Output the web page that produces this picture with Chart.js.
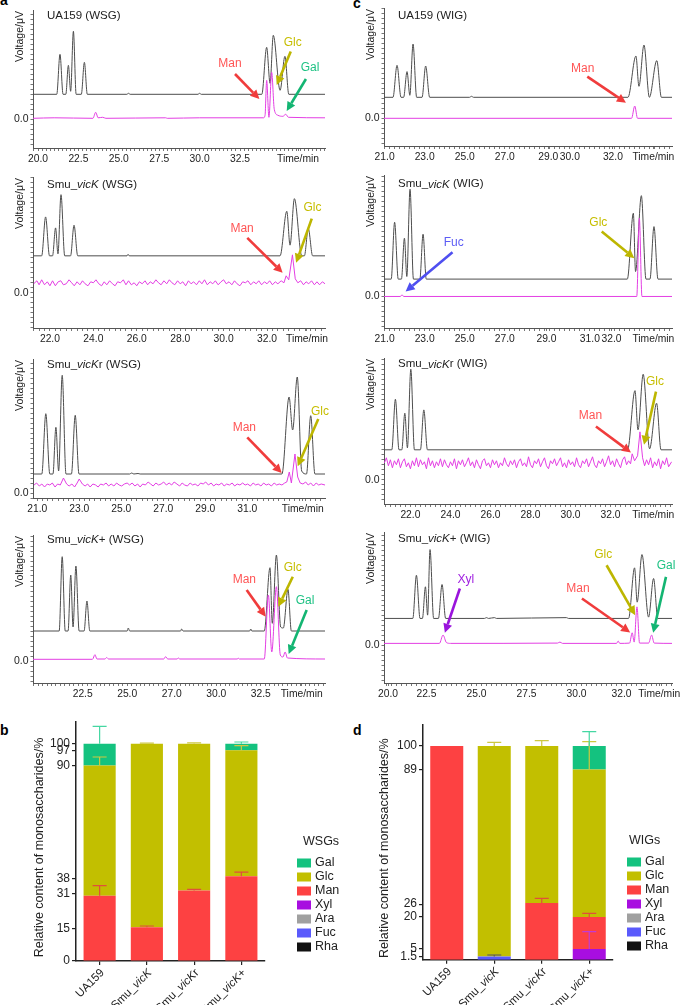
<!DOCTYPE html>
<html>
<head>
<meta charset="utf-8">
<script src="https://cdn.jsdelivr.net/npm/chart.js@4.4.1/dist/chart.umd.min.js"></script>
<style>
  body { margin: 0; background: #fff; width: 685px; height: 1005px; position: relative; overflow: hidden; font-family: "Liberation Sans", Arial, sans-serif; }
  canvas { position: absolute; }
  .letter { position: absolute; font: bold 14px "Liberation Sans", Arial, sans-serif; line-height: 14px; color: #000; }
</style>
</head>
<body>
<div class="letter" style="left:0;top:-7px">a</div>
<div class="letter" style="left:353px;top:-4px">c</div>
<div class="letter" style="left:0;top:723px">b</div>
<div class="letter" style="left:353px;top:723px">d</div>
<script>
// ---- chromatogram traces: [time/min, signal] ----
const a1Black = [[19.69,25],[21.16,25],[21.36,65],[21.55,25],[21.72,25],[21.88,54],[22.02,28],[22.19,88],[22.36,25],[22.68,25],[22.87,57],[23.05,25],[25.5,25],[25.6,26],[25.7,25],[29.9,25],[30,26],[30.1,25],[33.85,25],[34.15,72],[34.36,36],[34.56,84],[34.98,29],[35.28,63],[35.52,25],[37.76,25]];
const a1Magenta = [[19.69,1],[21,1.5],[23.4,1],[23.57,7],[23.72,1.5],[24,2],[24.2,1],[27.9,1.5],[28,1],[30,1.5],[33.95,1.5],[34.05,4],[34.15,39],[34.29,2],[34.46,47],[34.62,10],[34.85,4],[35.15,3],[35.33,5],[35.5,2],[37.76,1.5]];
const c1Black = [[20.97,21],[21.42,21],[21.62,53],[21.82,21],[21.95,21],[22.12,46.7],[22.26,23],[22.42,74.3],[22.6,21],[22.87,21],[23.05,52.3],[23.25,21],[25.24,21],[25.34,22],[25.44,21],[33.15,21],[33.55,62.3],[33.7,32],[33.95,73.3],[34.22,21],[34.59,57.7],[34.82,21],[35.35,21]];
const c1Magenta = [[20.97,0],[33.33,0],[33.49,12.3],[33.63,0],[35.35,0]];
const a2Black = [[21.22,37],[21.62,37],[21.8,76],[21.98,37],[22.12,37],[22.26,65],[22.37,39],[22.51,98.3],[22.68,37],[22.95,37],[23.11,67.7],[23.28,37],[25.55,37],[25.6,38.5],[25.65,37],[32.6,37],[32.91,81.7],[33.06,47.7],[33.26,94.3],[33.6,37],[33.72,37],[33.9,64.3],[34.1,37],[34.67,37]];
const a2Magenta = [[21.25,9],[21.4,12],[21.5,8],[21.62,13],[21.75,8],[21.88,11],[22,7],[22.12,12],[22.25,7],[22.38,11],[22.5,12],[22.62,8],[22.75,9],[22.88,13],[23,10],[23.12,7],[23.25,11],[23.38,8],[23.5,12],[23.62,9],[23.75,7],[23.88,11],[24,10],[24.12,13],[24.25,9],[24.38,7],[24.5,11],[24.62,8],[24.75,12],[24.88,9],[25,7],[25.12,11],[25.25,10],[25.38,13],[25.5,8],[25.62,12],[25.75,8],[25.88,10],[26,7],[26.12,11],[26.25,9],[26.38,12],[26.5,8],[26.62,11],[26.75,9],[26.88,13],[27,10],[27.12,8],[27.25,12],[27.38,9],[27.5,13],[27.62,10],[27.75,8],[27.88,12],[28,9],[28.12,11],[28.25,7],[28.38,12],[28.5,9],[28.62,11],[28.75,8],[28.88,12],[29,9],[29.12,13],[29.25,8],[29.38,11],[29.5,9],[29.62,12],[29.75,8],[29.88,11],[30,13],[30.12,9],[30.25,11],[30.38,8],[30.5,12],[30.62,9],[30.75,7],[30.88,11],[31,10],[31.12,12],[31.25,8],[31.38,11],[31.5,9],[31.62,12],[31.75,8],[31.88,11],[32,9],[32.12,12],[32.25,8],[32.38,11],[32.5,9],[32.65,12],[32.78,10],[32.88,17],[33,13],[33.17,38],[33.3,14],[33.42,10],[33.55,12],[33.68,8],[33.8,11],[33.92,9],[34.05,12],[34.18,8],[34.3,11],[34.42,8],[34.55,11],[34.67,9]];
const c2Black = [[20.97,17.4],[21.33,17.4],[21.5,74.4],[21.68,17.4],[21.84,17.4],[21.99,58.4],[22.11,20],[22.27,107.4],[22.44,17.4],[22.76,17.4],[22.92,62.4],[23.08,17.4],[33.12,17.4],[33.42,83.4],[33.53,25],[33.82,101],[34.05,17.4],[34.25,17.4],[34.45,70],[34.65,17.4],[35.35,17.4]];
const c2Magenta = [[20.97,0],[21.79,0],[21.87,1.7],[21.95,0],[33.59,0],[33.72,78.3],[33.85,0],[35.35,0]];
const a3Black = [[20.8,19],[21.22,19],[21.41,79.3],[21.6,19],[21.75,19],[21.89,65.7],[22.02,22],[22.19,117.7],[22.37,19],[22.63,19],[22.81,77.7],[22.99,19],[25.4,19],[25.5,20],[25.6,19],[25.8,19.5],[25.9,19],[32.65,19],[32.99,96],[33.16,63],[33.38,116],[33.59,22],[33.82,19],[34.02,77.3],[34.22,19],[34.7,19]];
const a3Magenta = [[20.85,8],[20.97,10],[21.1,7],[21.22,9],[21.35,6],[21.48,9],[21.6,8],[21.72,10],[21.85,6],[21.97,9],[22.1,8],[22.25,15],[22.4,9],[22.52,7],[22.65,9],[22.78,6],[22.9,10],[23,14],[23.15,9],[23.28,7],[23.4,9],[23.52,6],[23.65,9],[23.78,8],[23.9,6],[24.02,9],[24.15,8],[24.28,10],[24.4,7],[24.52,9],[24.65,7],[24.78,10],[24.9,8],[25.02,7],[25.15,9],[25.28,10],[25.4,8],[25.52,10],[25.65,7],[25.78,9],[25.9,6],[26.02,9],[26.15,8],[26.28,11],[26.4,9],[26.52,7],[26.65,10],[26.78,8],[26.9,9],[27.02,11],[27.15,8],[27.28,10],[27.4,8],[27.52,11],[27.65,9],[27.78,7],[27.9,10],[28.02,8],[28.15,7],[28.28,10],[28.4,8],[28.52,9],[28.65,7],[28.78,10],[28.9,9],[29.02,11],[29.15,8],[29.28,10],[29.4,7],[29.52,9],[29.65,8],[29.78,10],[29.9,7],[30.02,9],[30.15,8],[30.28,10],[30.4,7],[30.52,9],[30.65,8],[30.78,10],[30.9,8],[31.02,9],[31.15,7],[31.28,10],[31.4,8],[31.52,9],[31.65,7],[31.78,10],[31.9,8],[32.02,9],[32.15,7],[32.28,10],[32.4,8],[32.52,9],[32.65,8],[32.78,10],[32.88,11],[33,21],[33.1,10],[33.27,39],[33.4,16],[33.52,10],[33.65,9],[33.78,11],[33.9,8],[34.02,10],[34.15,7],[34.28,10],[34.4,8],[34.52,9],[34.7,8]];
const c3Black = [[20.68,30],[21.07,30],[21.25,80.7],[21.43,30],[21.57,30],[21.72,66.7],[21.85,32],[22.02,110.7],[22.2,30],[22.5,30],[22.67,70],[22.85,30],[32.85,30],[33.22,89.3],[33.37,50],[33.63,105.7],[33.95,31],[34.3,76.7],[34.52,30],[35.07,30]];
const c3Magenta = [[20.7,17],[20.8,22],[20.9,14],[21,20],[21.1,12],[21.2,19],[21.3,15],[21.4,21],[21.5,12],[21.6,18],[21.7,21],[21.8,13],[21.9,17],[22,11],[22.1,19],[22.2,14],[22.3,22],[22.4,13],[22.5,20],[22.6,15],[22.7,18],[22.8,11],[22.9,22],[23,14],[23.1,19],[23.2,12],[23.3,18],[23.4,14],[23.5,21],[23.6,13],[23.7,20],[23.8,15],[23.9,12],[24,18],[24.1,14],[24.2,21],[24.3,11],[24.4,19],[24.5,15],[24.6,20],[24.7,13],[24.8,17],[24.9,22],[25,14],[25.1,18],[25.2,12],[25.3,20],[25.4,15],[25.5,11],[25.6,19],[25.7,21],[25.8,14],[25.9,17],[26,12],[26.1,20],[26.2,15],[26.3,19],[26.4,12],[26.5,17],[26.6,14],[26.7,22],[26.8,16],[26.9,13],[27,19],[27.1,15],[27.2,20],[27.3,12],[27.4,18],[27.5,21],[27.6,14],[27.7,17],[27.8,13],[27.9,23],[28,15],[28.1,12],[28.2,19],[28.3,16],[28.4,21],[28.5,13],[28.6,18],[28.7,22],[28.8,14],[28.9,11],[29,19],[29.1,16],[29.2,21],[29.3,14],[29.4,18],[29.5,22],[29.6,13],[29.7,17],[29.8,12],[29.9,20],[30,15],[30.1,18],[30.2,13],[30.3,22],[30.4,15],[30.5,12],[30.6,19],[30.7,16],[30.8,21],[30.9,13],[31,18],[31.1,23],[31.2,15],[31.3,12],[31.4,19],[31.5,16],[31.6,21],[31.7,13],[31.8,18],[31.9,24],[32,15],[32.1,19],[32.2,13],[32.3,21],[32.4,16],[32.5,12],[32.6,20],[32.7,23],[32.8,15],[32.9,19],[33,16],[33.08,26],[33.2,19],[33.35,24],[33.47,48],[33.6,22],[33.7,14],[33.8,20],[33.9,15],[34,22],[34.1,12],[34.2,18],[34.3,14],[34.4,21],[34.5,11],[34.6,19],[34.7,15],[34.8,22],[34.9,13],[35.05,18]];
const a4Black = [[19.71,30],[21.18,30],[21.35,104.3],[21.52,30],[21.68,30],[21.83,86],[21.96,34],[22.12,95],[22.3,30],[22.58,30],[22.74,60],[22.9,30],[25,30],[25.06,33],[25.14,30],[28,30],[28.06,32],[28.14,30],[31.88,30],[31.94,32],[32,30],[32.7,30],[33.02,93.3],[33.15,37.7],[33.38,106],[33.62,34],[33.77,33],[34.03,71.7],[34.22,30],[36.11,30]];
const a4Magenta = [[19.71,1.7],[23.05,1.7],[23.19,6.3],[23.3,2],[23.75,2],[23.85,3.5],[23.95,2],[27.05,2],[27.16,4.3],[27.28,2],[27.8,2],[27.87,3],[27.95,2],[31.2,2],[31.24,3],[31.3,2],[32.7,2],[32.93,66],[33.12,9],[33.38,74.3],[33.6,6],[33.75,4],[33.87,9],[34,3],[36.11,2]];
const c4Black = [[20.38,26.7],[21.82,26.7],[22,70],[22.18,26.7],[22.3,26.7],[22.45,58.4],[22.56,30],[22.68,95.7],[22.86,26.7],[23.1,26.7],[23.28,60.7],[23.46,26.7],[25.4,26.7],[25.5,27.5],[25.6,26.7],[25.9,27.5],[26,26.7],[29.5,27.5],[29.6,26.7],[32.6,26.7],[32.9,77.4],[33.03,43],[33.27,90.7],[33.6,28],[33.85,66.7],[34.06,26.7],[34.77,26.7]];
const c4Magenta = [[20.38,1.7],[23.15,1.7],[23.33,10],[23.5,2.5],[23.7,1.7],[29.05,2],[29.17,3],[29.3,1.7],[32,1.7],[32.08,4],[32.16,1.7],[32.65,2],[32.78,12.3],[32.88,3],[33.02,38.3],[33.15,2],[33.6,2],[33.75,10],[33.88,2],[34.77,1.7]];

// ---- x tick labels [position, label] ----
const a1Ticks = [[20,'20.0'],[22.5,'22.5'],[25,'25.0'],[27.5,'27.5'],[30,'30.0'],[32.5,'32.5'],[36.09,'Time/min']];
const c1Ticks = [[21,'21.0'],[23,'23.0'],[25,'25.0'],[27,'27.0'],[29.17,'29.0'],[30.25,'30.0'],[32.4,'32.0'],[34.42,'Time/min']];
const a2Ticks = [[22,'22.0'],[24,'24.0'],[26,'26.0'],[28,'28.0'],[30,'30.0'],[32,'32.0'],[33.84,'Time/min']];
const c2Ticks = [[21,'21.0'],[23,'23.0'],[25,'25.0'],[27,'27.0'],[29.08,'29.0'],[31.25,'31.0'],[32.33,'32.0'],[34.42,'Time/min']];
const a3Ticks = [[21,'21.0'],[23,'23.0'],[25,'25.0'],[27,'27.0'],[29,'29.0'],[31,'31.0'],[33.64,'Time/min']];
const c3Ticks = [[22,'22.0'],[24,'24.0'],[26,'26.0'],[28,'28.0'],[30,'30.0'],[32,'32.0'],[34.13,'Time/min']];
const a4Ticks = [[22.5,'22.5'],[25,'25.0'],[27.5,'27.0'],[30,'30.0'],[32.5,'32.5'],[34.8,'Time/min']];
const c4Ticks = [[20.58,'20.0'],[22.5,'22.5'],[25,'25.0'],[27.5,'27.5'],[30,'30.0'],[32.25,'32.0'],[34.13,'Time/min']];

// ---- peak annotations [sugar, fromX, fromY, toX, toY, labelX, labelY] ----
const a1Arrows = [['Man',32.19,45.3,33.7,20.3,31.88,55.3],['Glc',35.64,67.7,34.77,34.3,35.76,77],['Gal',36.58,40.3,35.39,8.3,36.83,51.7]];
const c1Arrows = [['Man',31.12,41.6,33.05,15.6,30.89,50]];
const a2Arrows = [['Man',31.09,55,32.72,20,30.85,64.3],['Glc',34.06,74.3,33.34,30,34.09,85]];
const c2Arrows = [['Fuc',24.39,44.3,22.05,5,24.45,54.3],['Glc',31.84,65,33.47,38.3,31.67,74.3]];
const a3Arrows = [['Man',31.0,55.7,32.64,20,30.86,65.7],['Glc',34.38,74,33.4,26.7,34.46,81.7]];
const c3Arrows = [['Man',31.27,53.3,33.02,27.3,31.0,64],['Glc',34.27,88.3,33.67,35,34.22,98.3]];
const a4Arrows = [['Man',31.71,71,32.78,44.3,31.58,81],['Glc',34.3,84.3,33.49,54.3,34.3,93.3],['Gal',35.08,51,34.07,7,34.99,60]];
const c4Arrows = [['Xyl',24.17,56.7,23.42,12.3,24.47,66],['Man',30.27,46.7,32.68,12.7,30.07,56.7],['Glc',31.5,80,32.93,30,31.33,90.7],['Gal',34.47,68.3,33.83,12.3,34.47,79.3]];

// ---- bar charts (b: WSGs, d: WIGs) ----
const barCats = ['UA159', 'Smu_<i>vicK</i>', 'Smu_<i>vicK</i>r', 'Smu_<i>vicK</i>+'];
const sugars = ['Rha', 'Fuc', 'Ara', 'Xyl', 'Man', 'Glc', 'Gal'];
const wsgRha = [0, 0, 0, 0];
const wsgFuc = [0, 0, 0, 0];
const wsgAra = [0, 0, 0, 0];
const wsgXyl = [0, 0, 0, 0];
const wsgMan = [30, 15.5, 32.5, 39];
const wsgGlc = [60, 84.5, 67.5, 58];
const wsgGal = [10, 0, 0, 3];
const wsgManErr = [4.7, 0.6, 0.5, 1.9];
const wsgGlcErr = [3.9, 0.3, 0.4, 2.1];
const wsgGalErr = [8, 0, 0, 0.8];
const wsgTicks = [0, 15, 31, 38, 90, 97, 100];
const wigRha = [0, 0, 0, 0];
const wigFuc = [0, 1.5, 0, 0];
const wigAra = [0, 0, 0, 0];
const wigXyl = [0, 0, 0, 5];
const wigMan = [100, 0, 26.5, 15];
const wigGlc = [0, 98.5, 73.5, 69];
const wigGal = [0, 0, 0, 11];
const wigFucErr = [0, 0.7, 0, 0];
const wigXylErr = [0, 0, 0, 8.1];
const wigManErr = [0, 0, 2.2, 1.7];
const wigGlcErr = [0, 1.7, 2.5, 13];
const wigGalErr = [0, 0, 0, 6.7];
const wigTicks = [1.5, 5, 20, 26, 89, 100];

const FONT = '"Liberation Sans", Arial, Helvetica, sans-serif';
const sugarColor = { Gal: '#14c27f', Glc: '#c2bf00', Man: '#fd4142', Xyl: '#a80ee0', Ara: '#a0a0a0', Fuc: '#5a5afc', Rha: '#111111' };
const errColor = { Gal: '#45d7a2', Glc: '#cdc840', Man: '#e0503a', Xyl: '#c23ad6', Ara: '#888', Fuc: '#556', Rha: '#000' };
const arrowColor = { Man: '#f03c3c', Glc: '#bdb600', Gal: '#13b572', Fuc: '#4f4ff0', Xyl: '#9a14dc' };
const labelColor = { Man: '#ff5555', Glc: '#c6be00', Gal: '#1fc284', Fuc: '#5c5cf5', Xyl: '#a020e0' };

function makeCanvas(left, top, w, h) {
  const c = document.createElement('canvas');
  c.width = w; c.height = h;
  c.style.left = left + 'px'; c.style.top = top + 'px';
  c.style.width = w + 'px'; c.style.height = h + 'px';
  document.body.appendChild(c);
  return c;
}

function segments(s) {
  const out = []; const re = /<i>(.*?)<\/i>/g; let last = 0, m;
  while ((m = re.exec(s))) {
    if (m.index > last) out.push([s.slice(last, m.index), false]);
    out.push([m[1], true]); last = re.lastIndex;
  }
  if (last < s.length) out.push([s.slice(last), false]);
  return out;
}

function drawRich(ctx, s, x, y, size, align, color) {
  const segs = segments(s);
  const f = it => (it ? 'italic ' : '') + size + 'px ' + FONT;
  let w = 0;
  segs.forEach(([t, it]) => { ctx.font = f(it); w += ctx.measureText(t).width; });
  let cx = align === 'right' ? x - w : align === 'center' ? x - w / 2 : x;
  ctx.fillStyle = color; ctx.textAlign = 'left';
  segs.forEach(([t, it]) => { ctx.font = f(it); ctx.fillText(t, cx, y); cx += ctx.measureText(t).width; });
}

function arrow(ctx, x1, y1, x2, y2, color) {
  const ang = Math.atan2(y2 - y1, x2 - x1), head = 9, half = 4.5;
  const bx = x2 - head * Math.cos(ang), by = y2 - head * Math.sin(ang);
  ctx.save();
  ctx.strokeStyle = color; ctx.fillStyle = color; ctx.lineWidth = 2.6;
  ctx.beginPath(); ctx.moveTo(x1, y1); ctx.lineTo(bx, by); ctx.stroke();
  ctx.beginPath();
  ctx.moveTo(x2, y2);
  ctx.lineTo(bx + half * Math.sin(ang), by - half * Math.cos(ang));
  ctx.lineTo(bx - half * Math.sin(ang), by + half * Math.cos(ang));
  ctx.closePath(); ctx.fill();
  ctx.restore();
}

const chromDecor = {
  id: 'chromDecor',
  afterDraw(chart, args, o) {
    const ctx = chart.ctx, a = chart.chartArea, xs = chart.scales.x, ys = chart.scales.y;
    ctx.save();
    ctx.textBaseline = 'middle';
    drawRich(ctx, o.title, a.left + 14, o.titleY, 11.5, 'left', '#222');
    ctx.translate(a.left - 13, a.top + 1);
    ctx.rotate(-Math.PI / 2);
    ctx.font = '10.5px ' + FONT; ctx.fillStyle = '#222'; ctx.textAlign = 'right';
    ctx.fillText('Voltage/\u03bcV', 0, 0);
    ctx.restore();
    o.arrows.forEach(([name, fx, fy, tx, ty, lx, ly]) => {
      arrow(ctx, xs.getPixelForValue(fx), ys.getPixelForValue(fy), xs.getPixelForValue(tx), ys.getPixelForValue(ty), arrowColor[name]);
      ctx.save();
      ctx.font = '12px ' + FONT; ctx.fillStyle = labelColor[name];
      ctx.textAlign = 'center'; ctx.textBaseline = 'middle';
      ctx.fillText(name, xs.getPixelForValue(lx), ys.getPixelForValue(ly));
      ctx.restore();
    });
  }
};

const columns = [
  { left: 0, width: 335, yWidth: 33, padRight: 10 },
  { left: 340, width: 345, yWidth: 44, padRight: 13 }
];

const panels = [
  { col: 0, top: 10, bottom: 148, zero: 119.3, xmin: 19.69, xmax: 37.76, titleY: 16, title: 'UA159 (WSG)', black: a1Black, magenta: a1Magenta, ticks: a1Ticks, arrows: a1Arrows },
  { col: 1, top: 8, bottom: 146, zero: 118.3, xmin: 20.97, xmax: 35.35, titleY: 16, title: 'UA159 (WIG)', black: c1Black, magenta: c1Magenta, ticks: c1Ticks, arrows: c1Arrows },
  { col: 0, top: 176.7, bottom: 328, zero: 292.7, xmin: 21.22, xmax: 34.67, titleY: 184.3, title: 'Smu_<i>vicK</i> (WSG)', black: a2Black, magenta: a2Magenta, ticks: a2Ticks, arrows: a2Arrows, noisy: true },
  { col: 1, top: 175, bottom: 328.3, zero: 296.7, xmin: 20.97, xmax: 35.35, titleY: 184.3, title: 'Smu_<i>vicK</i> (WIG)', black: c2Black, magenta: c2Magenta, ticks: c2Ticks, arrows: c2Arrows },
  { col: 0, top: 359.3, bottom: 498.3, zero: 493.3, xmin: 20.8, xmax: 34.7, titleY: 365, title: 'Smu_<i>vicK</i>r (WSG)', black: a3Black, magenta: a3Magenta, ticks: a3Ticks, arrows: a3Arrows, noisy: true },
  { col: 1, top: 358, bottom: 504.3, zero: 480, xmin: 20.68, xmax: 35.07, titleY: 364.3, title: 'Smu_<i>vicK</i>r (WIG)', black: c3Black, magenta: c3Magenta, ticks: c3Ticks, arrows: c3Arrows, noisy: true },
  { col: 0, top: 535, bottom: 683, zero: 661, xmin: 19.71, xmax: 36.11, titleY: 540, title: 'Smu_<i>vicK</i>+ (WSG)', black: a4Black, magenta: a4Magenta, ticks: a4Ticks, arrows: a4Arrows },
  { col: 1, top: 531.7, bottom: 683, zero: 645, xmin: 20.38, xmax: 34.77, titleY: 538.3, title: 'Smu_<i>vicK</i>+ (WIG)', black: c4Black, magenta: c4Magenta, ticks: c4Ticks, arrows: c4Arrows }
];

function zeroPad(s) { s.paddingLeft = 0; s.paddingRight = 0; s.paddingTop = 0; s.paddingBottom = 0; }

panels.forEach(p => {
  const col = columns[p.col];
  const padTop = 12, xH = 24;
  const cTop = p.top - padTop;
  const h = Math.round(p.bottom - p.top + padTop + xH);
  const cv = makeCanvas(col.left, cTop, col.width, h);
  const labelAt = new Map(p.ticks.map(([v, l]) => [v.toFixed(3), l]));
  const toXY = arr => arr.map(([x, y]) => ({ x, y }));
  new Chart(cv, {
    type: 'line',
    data: {
      datasets: [
        { data: toXY(p.magenta), borderColor: '#e33ee3', borderWidth: 1, pointRadius: 0,
          cubicInterpolationMode: p.noisy ? 'default' : 'monotone', tension: 0 },
        { data: toXY(p.black), borderColor: '#4d4d4d', borderWidth: 1, pointRadius: 0, cubicInterpolationMode: 'monotone' }
      ]
    },
    options: {
      responsive: false, animation: false, events: [],
      layout: { padding: { top: padTop, right: col.padRight, left: 0, bottom: 0 } },
      plugins: {
        legend: { display: false }, tooltip: { enabled: false },
        chromDecor: { title: p.title, titleY: p.titleY - cTop, arrows: p.arrows }
      },
      scales: {
        x: {
          type: 'linear', min: p.xmin, max: p.xmax,
          afterFit: s => { s.height = xH; zeroPad(s); },
          afterBuildTicks: s => {
            const vals = new Map();
            for (let v = Math.ceil(p.xmin * 4) / 4; v <= p.xmax; v += 0.25) vals.set(v.toFixed(3), v);
            p.ticks.forEach(([v]) => vals.set(v.toFixed(3), v));
            s.ticks = [...vals.values()].sort((a, b) => a - b).map(v => ({ value: v }));
          },
          ticks: { autoSkip: false, maxRotation: 0, padding: 2, color: '#222', font: { family: FONT, size: 10.3 },
                   callback: v => labelAt.get(Number(v).toFixed(3)) || '' },
          grid: { drawOnChartArea: false, tickLength: 3, color: '#777' },
          border: { color: '#555' }
        },
        y: {
          min: p.zero - p.bottom, max: p.zero - p.top,
          afterFit: s => { s.width = col.yWidth; zeroPad(s); },
          afterBuildTicks: s => {
            const t = [];
            for (let v = Math.ceil((p.zero - p.bottom) / 5) * 5; v <= p.zero - p.top; v += 5) t.push({ value: v });
            s.ticks = t;
          },
          ticks: { autoSkip: false, padding: 2, color: '#222', font: { family: FONT, size: 10.5 },
                   callback: v => (Math.abs(v) < 1e-9 ? '0.0' : '') },
          grid: { drawOnChartArea: false, tickLength: 2.5, color: '#777' },
          border: { color: '#555' }
        }
      }
    },
    plugins: [chromDecor]
  });
});

// ---- stacked bar charts ----
const errorBars = {
  id: 'errorBars',
  afterDatasetsDraw(chart) {
    const ctx = chart.ctx, ys = chart.scales.y;
    chart.data.datasets.forEach((ds, i) => {
      if (!ds.err) return;
      chart.getDatasetMeta(i).data.forEach((bar, j) => {
        const e = ds.err[j];
        if (!e || !ds.data[j]) return;
        const yTop = ys.getPixelForValue(ys.getValueForPixel(bar.y) + e);
        ctx.save();
        ctx.strokeStyle = ds.errColor; ctx.lineWidth = 1.2;
        ctx.beginPath();
        ctx.moveTo(bar.x, bar.y); ctx.lineTo(bar.x, yTop);
        ctx.moveTo(bar.x - 7, yTop); ctx.lineTo(bar.x + 7, yTop);
        ctx.stroke();
        ctx.restore();
      });
    });
  }
};

const barDecor = {
  id: 'barDecor',
  afterDraw(chart, args, o) {
    const ctx = chart.ctx, a = chart.chartArea, xs = chart.scales.x;
    ctx.save();
    ctx.translate(a.left - o.titleOffset, (a.top + a.bottom) / 2 + 6);
    ctx.rotate(-Math.PI / 2);
    ctx.font = '12.5px ' + FONT; ctx.fillStyle = '#222';
    ctx.textAlign = 'center'; ctx.textBaseline = 'middle';
    ctx.fillText('Relative content of monosaccharides/%', 0, 0);
    ctx.restore();
    chart.data.labels.forEach((lab, j) => {
      ctx.save();
      ctx.translate(xs.getPixelForValue(j) + 3, a.bottom + 10);
      ctx.rotate(-Math.PI / 4);
      ctx.textBaseline = 'middle';
      drawRich(ctx, lab, 0, 0, 11.5, 'right', '#222');
      ctx.restore();
    });
    ctx.save();
    ctx.font = '12.5px ' + FONT; ctx.fillStyle = '#222';
    ctx.textAlign = 'left'; ctx.textBaseline = 'middle';
    ctx.fillText(o.legendTitle, o.legendTitleX, o.legendTop - 21);
    const ds = chart.data.datasets.slice().reverse();
    ds.forEach((d, k) => {
      const y = o.legendTop + k * 14;
      ctx.fillStyle = d.backgroundColor;
      ctx.fillRect(o.legendX, y - 4.5, 14, 9);
      ctx.fillStyle = '#222';
      ctx.fillText(d.label, o.legendX + 18, y);
    });
    ctx.restore();
  }
};

function stackedBars(box, series, errs, ticks, legendTitle) {
  const cv = makeCanvas(box.left, box.top, box.width, box.height);
  new Chart(cv, {
    type: 'bar',
    data: {
      labels: barCats,
      datasets: sugars.map(s => ({
        label: s, data: series[s], err: errs[s], errColor: errColor[s],
        backgroundColor: sugarColor[s], borderWidth: 0,
        categoryPercentage: 1, barPercentage: box.barPct
      }))
    },
    options: {
      responsive: false, animation: false, events: [],
      layout: { padding: { top: box.padTop, right: box.padRight, left: 0, bottom: 0 } },
      plugins: {
        legend: { display: false }, tooltip: { enabled: false },
        barDecor: { titleOffset: box.titleOffset, legendTitle, legendTitleX: box.legendTitleX, legendX: box.legendX, legendTop: box.legendTop }
      },
      scales: {
        x: {
          stacked: true,
          afterFit: s => { s.height = box.xH; zeroPad(s); },
          ticks: { callback: () => '' },
          grid: { drawOnChartArea: false, offset: false, tickLength: 4, color: '#222', lineWidth: 1.2 },
          border: { color: '#222', width: 1.5 }
        },
        y: {
          stacked: true, min: 0, max: 110,
          afterFit: s => { s.width = box.yWidth; zeroPad(s); },
          afterBuildTicks: s => { s.ticks = ticks.map(v => ({ value: v })); },
          ticks: { autoSkip: false, padding: 2, color: '#222', font: { family: FONT, size: 12 } },
          grid: { drawOnChartArea: false, tickLength: 4, color: '#222', lineWidth: 1.2 },
          border: { color: '#222', width: 1.5 }
        }
      }
    },
    plugins: [errorBars, barDecor]
  });
}

stackedBars(
  { left: 0, top: 700, width: 340, height: 305, padTop: 22, padRight: 75, yWidth: 76, xH: 44, barPct: 0.68,
    titleOffset: 36, legendTitleX: 303, legendX: 297, legendTop: 163 },
  { Rha: wsgRha, Fuc: wsgFuc, Ara: wsgAra, Xyl: wsgXyl, Man: wsgMan, Glc: wsgGlc, Gal: wsgGal },
  { Man: wsgManErr, Glc: wsgGlcErr, Gal: wsgGalErr },
  wsgTicks, 'WSGs');

stackedBars(
  { left: 340, top: 700, width: 345, height: 305, padTop: 24.6, padRight: 72, yWidth: 83, xH: 45.3, barPct: 0.695,
    titleOffset: 38, legendTitleX: 289, legendX: 287, legendTop: 162 },
  { Rha: wigRha, Fuc: wigFuc, Ara: wigAra, Xyl: wigXyl, Man: wigMan, Glc: wigGlc, Gal: wigGal },
  { Fuc: wigFucErr, Xyl: wigXylErr, Man: wigManErr, Glc: wigGlcErr, Gal: wigGalErr },
  wigTicks, 'WIGs');
</script>
</body>
</html>
